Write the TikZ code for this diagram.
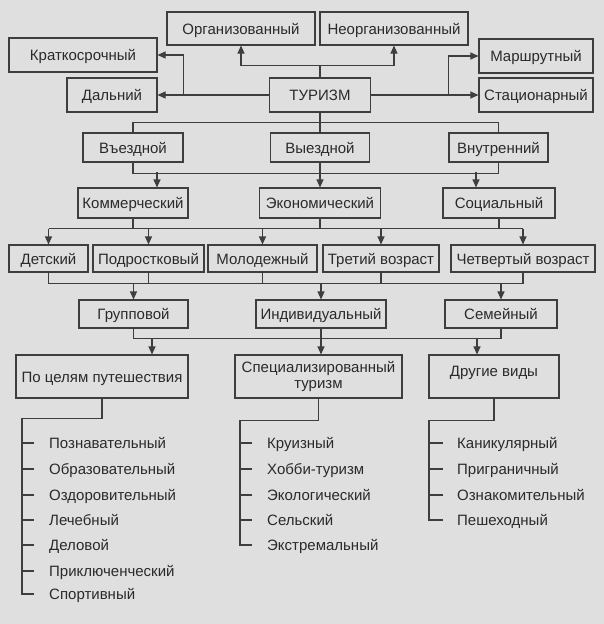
\documentclass[tikz,border=0pt]{standalone}
\usepackage{fontspec}
\setmainfont{Liberation Sans}
\usetikzlibrary{arrows.meta,positioning,calc}
\tikzset{
  >=Stealth,
  every node/.append style={font=\fontsize{15}{16}\selectfont},
}

\begin{document}
\begin{tikzpicture}[
    x=1pt, y=-1pt,
    box/.style={
        rectangle,
        draw=linegray,
        fill=paper,
        line width=1.1pt,
        align=center,
        inner xsep=3pt,
        inner ysep=2pt,
        text=textgray
    },
    block/.style={
        box,
        text height=12pt,
        text depth=1pt
    },
    item/.style={
        anchor=west,
        inner sep=0pt,
        text height=12pt,
        text depth=1pt,
        text=textgray
    },
    link/.style={
        draw=linegray,
        line width=1.1pt
    },
    arrow/.style={
        link,
        -{Triangle[length=8pt,width=7pt]}
    }
]
% Color definitions
\definecolor{paper}{RGB}{223,223,223}
\definecolor{linegray}{RGB}{62,62,62}
\definecolor{textgray}{RGB}{42,42,42}

\fill[paper] (0,0) rectangle (604,624);
\useasboundingbox (0,0) rectangle (604,624);

% Nodes
\node[block, minimum width=148pt, minimum height=33pt] (org) at (241,28.5) {Организованный};
\node[block, minimum width=148pt, minimum height=33pt] (neorg) at (394,28.5) {Неорганизованный};
\node[block, minimum width=148pt, minimum height=34pt] (kratk) at (83,55) {Краткосрочный};
\node[block, minimum width=114pt, minimum height=34pt] (marsh) at (536,56) {Маршрутный};
\node[block, minimum width=90pt, minimum height=34pt] (daln) at (112,95) {Дальний};
\node[block, minimum width=101pt, minimum height=34pt] (turizm) at (320,95) {ТУРИЗМ};
\node[block, minimum width=114pt, minimum height=34pt] (stac) at (536,95) {Стационарный};

\node[block, minimum width=100pt, minimum height=29pt] (vin) at (133,147.5) {Въездной};
\node[block, minimum width=99pt, minimum height=29pt] (vout) at (320,147.5) {Выездной};
\node[block, minimum width=99pt, minimum height=29pt] (vnutr) at (498.5,147.5) {Внутренний};

\node[block, minimum width=110pt, minimum height=30pt] (komm) at (133,203) {Коммерческий};
\node[block, minimum width=121pt, minimum height=30pt] (ekon) at (320,203) {Экономический};
\node[block, minimum width=112pt, minimum height=30pt] (soc) at (499,203) {Социальный};

\node[block, minimum width=79pt, minimum height=27pt] (detsk) at (48.5,258.5) {Детский};
\node[block, minimum width=111pt, minimum height=27pt] (podr) at (148.5,258.5) {Подростковый};
\node[block, minimum width=109pt, minimum height=27pt] (molod) at (262.5,258.5) {Молодежный};
\node[block, minimum width=116pt, minimum height=27pt] (tretiy) at (381,258.5) {Третий возраст};
\node[block, minimum width=144pt, minimum height=27pt] (chetv) at (523,258.5) {Четвертый возраст};

\node[block, minimum width=109pt, minimum height=28pt] (grupp) at (133.5,314) {Групповой};
\node[block, minimum width=130pt, minimum height=28pt] (indiv) at (321,314) {Индивидуальный};
\node[block, minimum width=112pt, minimum height=28pt] (semey) at (501,314) {Семейный};

\node[block, minimum width=172pt, minimum height=43pt] (celi) at (102,376.5) {По целям путешествия};
\node[box, minimum width=167pt, minimum height=43pt] (spec) at (318.5,376.5) {Специализированный\\туризм};
\node[block, minimum width=130pt, minimum height=43pt, text depth=12pt] (drug) at (494,376.5) {Другие виды};

\node[item] (celi1) at (49,443) {Познавательный};
\node[item] (celi2) at (49,469) {Образовательный};
\node[item] (celi3) at (49,495) {Оздоровительный};
\node[item] (celi4) at (49,520) {Лечебный};
\node[item] (celi5) at (49,545) {Деловой};
\node[item] (celi6) at (49,571) {Приключенческий};
\node[item] (celi7) at (49,594) {Спортивный};

\node[item] (spec1) at (267,443) {Круизный};
\node[item] (spec2) at (267,469) {Хобби-туризм};
\node[item] (spec3) at (267,495) {Экологический};
\node[item] (spec4) at (267,520) {Сельский};
\node[item] (spec5) at (267,545) {Экстремальный};

\node[item] (drug1) at (457,443) {Каникулярный};
\node[item] (drug2) at (457,469) {Приграничный};
\node[item] (drug3) at (457,495) {Ознакомительный};
\node[item] (drug4) at (457,520) {Пешеходный};

% Arrows
\draw[link] (turizm.north) -- ++(0,-12) coordinate (topfork);
\draw[arrow] (topfork) -| (org.south);
\draw[arrow] (topfork) -| (neorg.south);
\draw[arrow] (turizm.west) -- (daln.east);
\draw[arrow] ($(daln.east)+(26,0)$) |- (kratk.east);
\draw[arrow] (turizm.east) -- (stac.west);
\draw[arrow] ($(stac.west)+(-30,0)$) |- (marsh.west);

\draw[link] (turizm.south) -- (vout.north);
\draw[link] (vin.north) -- ++(0,-10) -| (vnutr.north);
\draw[link] (vin.south) -- ++(0,11) -| (vnutr.south);
\draw[arrow] ($(komm.north)+(24,-15)$) -- ++(0,15);
\draw[arrow] (vout.south) -- (ekon.north);
\draw[arrow] ($(soc.north)+(-23,-15)$) -- ++(0,15);

\draw[link] (komm.south) -- ++(0,10) coordinate (bus3);
\draw[link] (detsk.north |- bus3) -- (chetv.north |- bus3);
\draw[link] (ekon.south) -- (ekon.south |- bus3);
\draw[link] (soc.south) -- (soc.south |- bus3);
\draw[arrow] (detsk.north |- bus3) -- (detsk.north);
\draw[arrow] (podr.north |- bus3) -- (podr.north);
\draw[arrow] (molod.north |- bus3) -- (molod.north);
\draw[arrow] (tretiy.north |- bus3) -- (tretiy.north);
\draw[arrow] (chetv.north |- bus3) -- (chetv.north);

\draw[link] (detsk.south) -- ++(0,11) coordinate (bus4) -| (chetv.south);
\draw[link] (podr.south) -- (podr.south |- bus4);
\draw[link] (molod.south) -- (molod.south |- bus4);
\draw[link] (tretiy.south) -- (tretiy.south |- bus4);
\draw[arrow] (grupp.north |- bus4) -- (grupp.north);
\draw[arrow] (indiv.north |- bus4) -- (indiv.north);
\draw[arrow] (semey.north |- bus4) -- (semey.north);

\draw[link] (grupp.south) -- ++(0,10) coordinate (bus5) -| (semey.south);
\draw[arrow] (indiv.south) -- (indiv.south |- spec.north);
\draw[arrow] ($(celi.north |- bus5)+(50,0)$) -- ($(celi.north)+(50,0)$);
\draw[arrow] ($(drug.north |- bus5)+(-17,0)$) -- ($(drug.north)+(-17,0)$);

% Lists
\draw[link] (celi.south) -- ++(0,20) -| ([xshift=-27pt]celi7.west) -- ++(12,0);
\draw[link] ([xshift=-27pt]celi1.west) -- ++(12,0)
            ([xshift=-27pt]celi2.west) -- ++(12,0)
            ([xshift=-27pt]celi3.west) -- ++(12,0)
            ([xshift=-27pt]celi4.west) -- ++(12,0)
            ([xshift=-27pt]celi5.west) -- ++(12,0)
            ([xshift=-27pt]celi6.west) -- ++(12,0);

\draw[link] (spec.south) -- ++(0,22) -| ([xshift=-27pt]spec5.west) -- ++(12,0);
\draw[link] ([xshift=-27pt]spec1.west) -- ++(12,0)
            ([xshift=-27pt]spec2.west) -- ++(12,0)
            ([xshift=-27pt]spec3.west) -- ++(12,0)
            ([xshift=-27pt]spec4.west) -- ++(12,0);

\draw[link] (drug.south) -- ++(0,22) -| ([xshift=-28pt]drug4.west) -- ++(14,0);
\draw[link] ([xshift=-28pt]drug1.west) -- ++(14,0)
            ([xshift=-28pt]drug2.west) -- ++(14,0)
            ([xshift=-28pt]drug3.west) -- ++(14,0);

\end{tikzpicture}
\end{document}
